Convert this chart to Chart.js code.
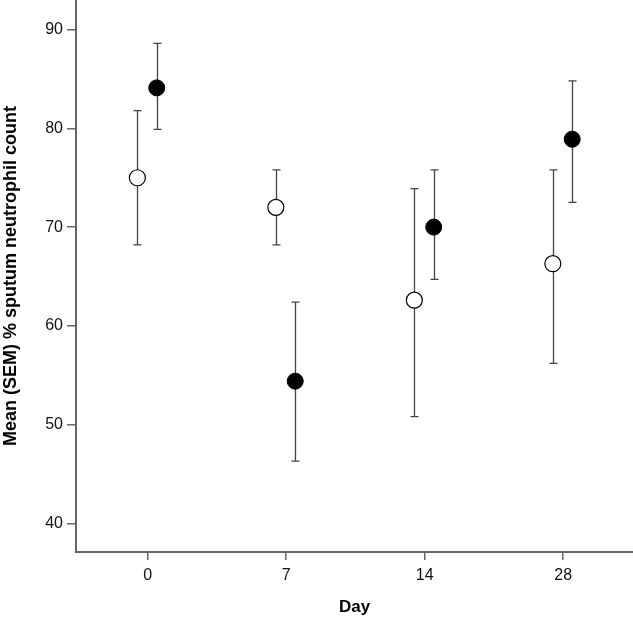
<!DOCTYPE html>
<html>
<head>
<meta charset="utf-8">
<script src="https://cdn.jsdelivr.net/npm/chart.js@4"></script>
<style>
  body { margin: 0; background: #fff; }
  canvas { display: block; }
</style>
</head>
<body>
<canvas id="neutChart" width="633" height="618"></canvas>
<script>
// day labels and mean (SEM) values
const days = ['0', '7', '14', '28'];
const openMean = [75.0, 72.0, 62.6, 66.3];
const openLow = [68.2, 68.2, 50.8, 56.2];
const openHigh = [81.8, 75.8, 73.9, 75.8];
const filledMean = [84.1, 54.4, 70.0, 78.9];
const filledLow = [79.9, 46.3, 64.7, 72.5];
const filledHigh = [88.6, 62.4, 75.8, 84.8];
const yTicks = [40, 50, 60, 70, 80, 90];

const FONT = '"Liberation Sans", Arial, sans-serif';
const AXIS = '#666';

function points(means, lows, highs, shift) {
    return means.map(function (m, i) {
        return { x: i + shift, y: m, lo: lows[i], hi: highs[i] };
    });
}

// whiskers drawn under the markers so open circles hide the line
const errorBars = {
    id: 'errorBars',
    beforeDatasetsDraw(chart) {
        const ctx = chart.ctx;
        const xs = chart.scales.x;
        const ys = chart.scales.y;
        ctx.save();
        ctx.strokeStyle = '#444';
        ctx.lineWidth = 1.3;
        chart.data.datasets.forEach(function (ds) {
            ds.data.forEach(function (p) {
                const x = Math.round(xs.getPixelForValue(p.x)) + 0.5;
                const top = ys.getPixelForValue(p.hi);
                const bot = ys.getPixelForValue(p.lo);
                ctx.beginPath();
                ctx.moveTo(x, top);
                ctx.lineTo(x, bot);
                ctx.moveTo(x - 4, top);
                ctx.lineTo(x + 4, top);
                ctx.moveTo(x - 4, bot);
                ctx.lineTo(x + 4, bot);
                ctx.stroke();
            });
        });
        ctx.restore();
    }
};

const ctx = document.getElementById('neutChart').getContext('2d');

new Chart(ctx, {
    type: 'scatter',
    data: {
        datasets: [
            {
                label: 'Open',
                data: points(openMean, openLow, openHigh, -0.075),
                pointRadius: 8,
                pointBackgroundColor: '#fff',
                pointBorderColor: '#000',
                pointBorderWidth: 1.2,
            },
            {
                label: 'Filled',
                data: points(filledMean, filledLow, filledHigh, 0.065),
                pointRadius: 8,
                pointBackgroundColor: '#000',
                pointBorderColor: '#000',
                pointBorderWidth: 1,
            },
        ],
    },
    options: {
        responsive: false,
        animation: false,
        layout: { padding: 0, autoPadding: false },
        plugins: {
            legend: { display: false },
            tooltip: { enabled: false },
        },
        scales: {
            x: {
                type: 'linear',
                min: -0.518,
                max: 3.504,
                afterBuildTicks: function (scale) {
                    scale.ticks = days.map(function (d, i) { return { value: i }; });
                },
                afterFit: function (scale) {
                    scale.height = 66;
                    scale.paddingLeft = 0;
                    scale.paddingRight = 0;
                },
                ticks: {
                    callback: function (v) { return days[v]; },
                    color: '#111',
                    font: { family: FONT, size: 16 },
                    padding: 6,
                    maxRotation: 0,
                },
                grid: { drawOnChartArea: false, tickLength: 8, color: AXIS, lineWidth: 1.5 },
                border: { color: AXIS, width: 2 },
                title: {
                    display: true,
                    text: 'Day',
                    color: '#000',
                    font: { family: FONT, size: 17, weight: 'bold' },
                    padding: 0,
                },
            },
            y: {
                min: 37.1,
                max: 93,
                afterBuildTicks: function (scale) {
                    scale.ticks = yTicks.map(function (v) { return { value: v }; });
                },
                afterFit: function (scale) {
                    scale.width = 76;
                    scale.paddingTop = 0;
                    scale.paddingBottom = 0;
                },
                ticks: {
                    color: '#111',
                    font: { family: FONT, size: 16 },
                    padding: 4,
                },
                grid: { drawOnChartArea: false, tickLength: 9, color: AXIS, lineWidth: 1.5 },
                border: { color: AXIS, width: 2 },
                title: {
                    display: true,
                    text: 'Mean (SEM) % sputum neutrophil count',
                    color: '#000',
                    font: { family: FONT, size: 18, weight: 'bold' },
                    padding: 0,
                },
            },
        },
    },
    plugins: [errorBars],
});
</script>
</body>
</html>
